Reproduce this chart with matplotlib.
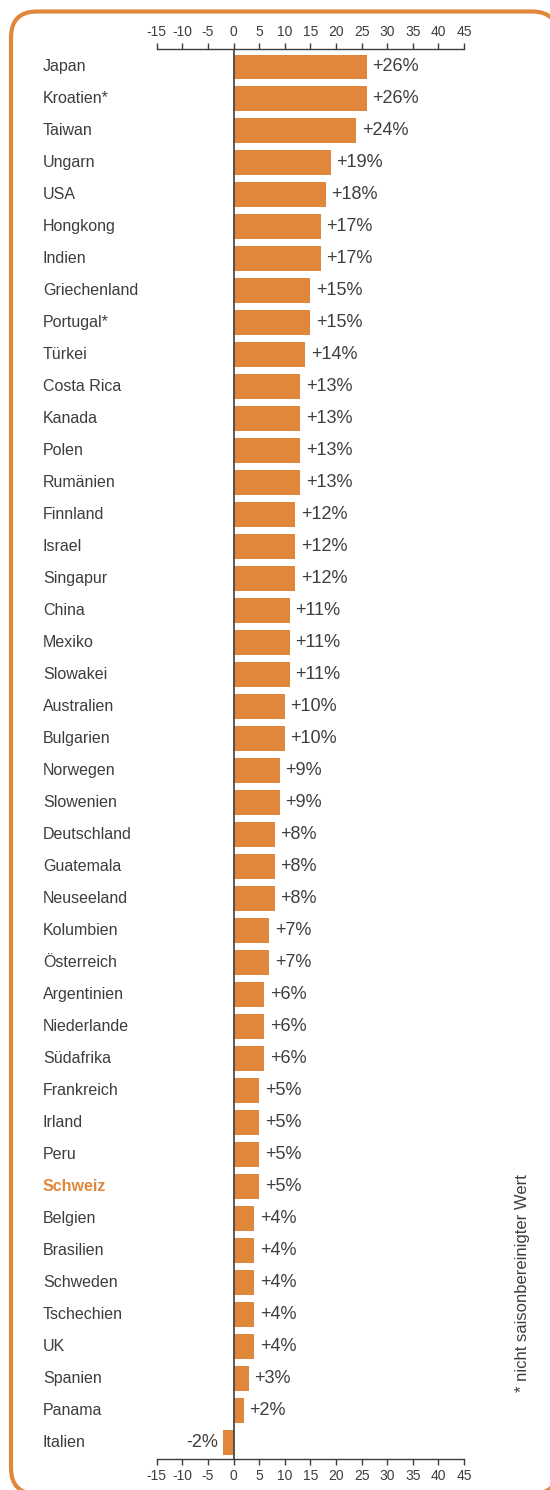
import matplotlib.pyplot as plt
import numpy as np
from matplotlib.patches import FancyBboxPatch

plt.rcParams['font.family'] = ['Liberation Sans', 'DejaVu Sans']

countries = ["Japan", "Kroatien*", "Taiwan", "Ungarn", "USA", "Hongkong", "Indien",
             "Griechenland", "Portugal*", "Türkei", "Costa Rica", "Kanada", "Polen",
             "Rumänien", "Finnland", "Israel", "Singapur", "China", "Mexiko", "Slowakei",
             "Australien", "Bulgarien", "Norwegen", "Slowenien", "Deutschland", "Guatemala",
             "Neuseeland", "Kolumbien", "Österreich", "Argentinien", "Niederlande",
             "Südafrika", "Frankreich", "Irland", "Peru", "Schweiz", "Belgien", "Brasilien",
             "Schweden", "Tschechien", "UK", "Spanien", "Panama", "Italien"]
values = [26, 26, 24, 19, 18, 17, 17, 15, 15, 14, 13, 13, 13, 13, 12, 12, 12, 11, 11, 11,
          10, 10, 9, 9, 8, 8, 8, 7, 7, 6, 6, 6, 5, 5, 5, 5, 4, 4, 4, 4, 4, 3, 2, -2]
xticks = list(range(-15, 50, 5))
highlight = "Schweiz"
note = "* nicht saisonbereinigter Wert"

orange = "#E0873B"
dark = "#3d3d3d"

W, H = 550, 1490
fig = plt.figure(figsize=(W / 100, H / 100), dpi=100)

# background axes in pixel units (y up) for the rounded frame
bg = fig.add_axes([0, 0, 1, 1])
bg.set_xlim(0, W)
bg.set_ylim(0, H)
bg.axis("off")
# frame from x 11..558, y (from top) 11.5..1494 -> runs off the right and bottom edges
# white fill avoids agg clipping artefacts on the curved corners
frame = FancyBboxPatch((11, H - 1494), 547, 1482.5, boxstyle="round,pad=0,rounding_size=26",
                       fc="white", ec=orange, lw=3, clip_on=False)
bg.add_patch(frame)

# main chart axes
x0, x1 = 156.8, 464
y0, y1 = 49, 1459
ax = fig.add_axes([x0 / W, (H - y1) / H, (x1 - x0) / W, (y1 - y0) / H])
ax.set_facecolor("none")

n = len(countries)
y = np.arange(n)
ax.barh(y, values, height=0.78, color=orange, zorder=2)
ax.axvline(0, color=dark, lw=1.2, zorder=3)

ytop, ybot = -0.5625, n - 1 + 0.53
ax.set_xlim(-15, 45)
ax.set_ylim(ybot, ytop)
ax.set_xticks(xticks)
ax.set_xticklabels([str(t) for t in xticks])
ax.set_yticks([])
ax.tick_params(axis="x", which="both", top=True, bottom=True, labeltop=True, labelbottom=True,
               direction="out", length=4.5, width=1, color=dark, labelcolor=dark,
               labelsize=10, pad=2.5)
for s in ["left", "right"]:
    ax.spines[s].set_visible(False)
for s in ["top", "bottom"]:
    ax.spines[s].set_color(dark)
    ax.spines[s].set_linewidth(1)

for i, (c, v) in enumerate(zip(countries, values)):
    if v >= 0:
        ax.text(v + 1.1, i, f"+{v}%", va="center", ha="left", fontsize=13, color=dark)
    else:
        ax.text(v - 1.1, i, f"{v}%", va="center", ha="right", fontsize=13, color=dark)
    # country labels at fixed pixel x
    ypix = y0 + (i - ytop) * (y1 - y0) / (ybot - ytop)
    if c == highlight:
        bg.text(43, H - ypix, c, va="center", ha="left", fontsize=11.5, color=orange,
                fontweight="bold")
    else:
        bg.text(43, H - ypix, c, va="center", ha="left", fontsize=11.5, color=dark)

bg.text(523, H - 1392, note, rotation=90, va="bottom", ha="center", fontsize=12, color=dark)

fig.savefig("out.png", dpi=100)
